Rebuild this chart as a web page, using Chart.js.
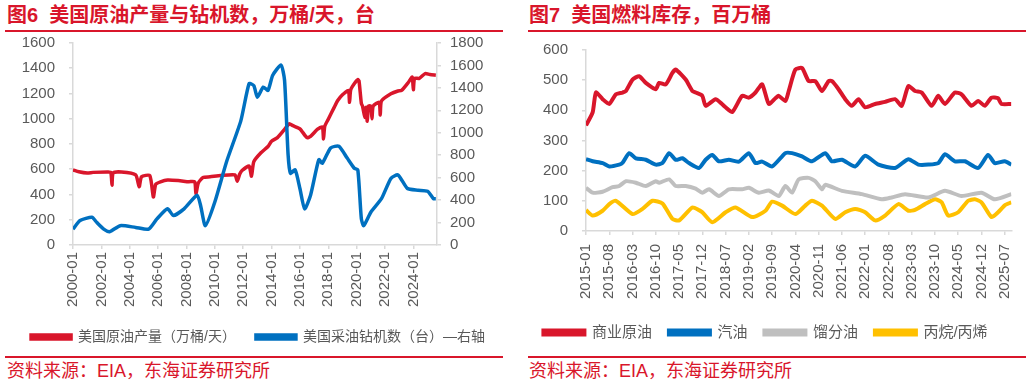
<!DOCTYPE html>
<html><head><meta charset="utf-8">
<script src="https://cdn.jsdelivr.net/npm/chart.js@4.4.1/dist/chart.umd.min.js"></script>
<style>
body{margin:0;background:#fff;width:1032px;height:387px;position:relative;overflow:hidden;font-family:"Liberation Sans",Arial,"Noto Sans CJK SC",sans-serif;}
.title{position:absolute;top:3px;font-size:20px;font-weight:bold;color:#D9162B;white-space:nowrap;line-height:25px;}
.rule{position:absolute;height:2px;background:#D9162B;}
.src{position:absolute;top:361px;font-size:18px;color:#D9162B;line-height:21px;white-space:nowrap;}
canvas{position:absolute;}
</style></head>
<body>
<div class="title" style="left:7px">图6&nbsp;&nbsp;美国原油产量与钻机数，万桶/天，台</div>
<div class="rule" style="left:5px;width:498px;top:30px"></div>
<div class="title" style="left:529px">图7&nbsp;&nbsp;美国燃料库存，百万桶</div>
<div class="rule" style="left:528px;width:498px;top:30px"></div>
<div class="rule" style="left:5px;width:498px;top:356px"></div>
<div class="rule" style="left:528px;width:498px;top:356px"></div>
<div class="src" style="left:7px">资料来源：EIA，东海证券研究所</div>
<div class="src" style="left:529px">资料来源：EIA，东海证券研究所</div>
<canvas id="c1" width="516" height="334" style="left:0;top:20px;width:516px;height:334px"></canvas>
<canvas id="c2" width="516" height="323" style="left:516px;top:27px;width:516px;height:323px"></canvas>
<script>
// ---------- Chart 1 data ----------
const xTicks1 = ['2000-01','2002-01','2004-01','2006-01','2008-01','2010-01','2012-01','2014-01','2016-01','2018-01','2020-01','2022-01','2024-01'];
const prodDates = ['2000-01','2000-06','2001-01','2001-06','2002-06','2002-09','2002-10','2002-11','2003-06','2004-06','2004-09','2004-11','2005-06','2005-09','2005-11','2006-03','2006-09','2007-06','2008-03','2008-08','2008-09','2008-11','2009-03','2009-09','2010-06','2011-06','2011-08','2011-10','2011-12','2012-06','2012-08','2012-10','2013-04','2013-10','2014-01','2014-06','2014-12','2015-04','2015-07','2016-01','2016-07','2016-10','2017-04','2017-08','2017-09','2017-10','2018-01','2018-06','2018-09','2019-01','2019-06','2019-07','2019-08','2019-12','2020-02','2020-03','2020-05','2020-06','2020-08','2020-09','2020-10','2020-11','2021-01','2021-02','2021-03','2021-08','2021-09','2021-10','2022-06','2022-12','2023-03','2023-09','2023-12','2024-01','2024-02','2024-06','2024-11','2025-03','2025-08'];
const prodValues = [595,580,570,575,578,575,474,570,578,555,461,540,550,380,480,500,514,510,501,500,405,490,535,540,550,555,505,560,590,625,545,660,730,780,822,850,916,960,945,920,850,860,917,935,840,940,996,1090,1144,1190,1224,1130,1230,1290,1310,1300,1120,1100,1010,1090,980,1100,1100,1000,1100,1130,1030,1140,1197,1220,1224,1291,1330,1230,1320,1320,1358,1350,1345];
const rigDates = ['2000-01','2000-07','2001-05','2001-09','2002-03','2002-08','2003-05','2004-06','2005-05','2005-12','2006-09','2007-02','2007-11','2008-10','2009-01','2009-05','2010-01','2010-11','2011-11','2012-06','2012-10','2013-01','2013-06','2013-10','2014-02','2014-09','2014-12','2015-03','2015-05','2015-09','2016-01','2016-05','2016-10','2017-05','2017-08','2018-03','2018-10','2019-05','2019-11','2020-02','2020-05','2020-07','2021-01','2021-10','2022-06','2022-12','2023-08','2024-05','2025-01','2025-06','2025-08'];
const rigValues = [141,217,247,202,141,118,172,156,141,232,322,262,322,443,350,172,383,744,1106,1438,1420,1317,1407,1377,1513,1604,1468,805,639,669,503,322,443,760,729,865,880,774,684,669,232,172,292,412,593,624,503,488,479,412,412];

// ---------- Chart 2 data ----------
const xTicks2 = ['2015-01','2015-08','2016-03','2016-10','2017-05','2017-12','2018-07','2019-02','2019-09','2020-04','2020-11','2021-06','2022-01','2022-08','2023-03','2023-10','2024-05','2024-12','2025-07'];
const crudeDates = ['2015-01','2015-03','2015-04','2015-06','2015-08','2015-10','2015-12','2016-01','2016-03','2016-05','2016-07','2016-10','2016-11','2017-01','2017-03','2017-04','2017-07','2017-09','2017-10','2017-12','2018-01','2018-04','2018-06','2018-07','2018-09','2018-12','2019-02','2019-04','2019-06','2019-08','2019-10','2019-11','2020-01','2020-02','2020-04','2020-06','2020-08','2020-10','2020-12','2021-02','2021-03','2021-05','2021-07','2021-09','2021-11','2022-01','2022-04','2022-07','2022-10','2022-12','2023-02','2023-04','2023-06','2023-09','2023-11','2024-01','2024-04','2024-06','2024-09','2024-11','2025-01','2025-03','2025-05','2025-06','2025-09'];
const crudeValues = [350,393,459,437,421,453,459,464,502,513,491,470,491,486,524,535,502,464,459,448,415,437,420,410,394,448,442,459,486,421,440,448,431,464,535,540,497,497,464,497,497,470,437,415,437,410,421,428,437,415,480,464,459,415,448,421,459,453,415,431,415,442,440,421,421];
const gasDates = ['2015-01','2015-03','2015-06','2015-08','2015-11','2015-12','2016-02','2016-04','2016-07','2016-10','2016-12','2017-02','2017-04','2017-06','2017-08','2017-11','2018-01','2018-03','2018-05','2018-08','2018-11','2019-02','2019-04','2019-06','2019-09','2020-01','2020-03','2020-06','2020-09','2021-01','2021-03','2021-06','2021-10','2022-01','2022-05','2022-10','2023-02','2023-05','2023-08','2023-11','2024-01','2024-04','2024-07','2024-11','2025-02','2025-04','2025-07','2025-09'];
const gasValues = [238,231,225,214,220,226,258,241,236,220,225,258,236,241,225,209,236,252,231,236,230,258,225,230,214,258,258,247,231,258,231,236,214,249,220,209,238,220,220,225,254,231,231,209,252,225,231,220];
const distDates = ['2015-01','2015-03','2015-06','2015-09','2015-11','2016-01','2016-04','2016-07','2016-10','2016-11','2017-02','2017-04','2017-07','2017-10','2017-12','2018-02','2018-05','2018-08','2018-12','2019-02','2019-05','2019-08','2019-11','2020-01','2020-03','2020-05','2020-08','2020-10','2020-12','2021-01','2021-06','2021-12','2022-06','2022-09','2023-01','2023-08','2024-01','2024-06','2024-12','2025-04','2025-09'];
const distValues = [143,127,130,145,149,165,160,149,165,160,171,149,149,140,127,138,116,138,138,143,127,134,116,149,127,171,176,165,138,153,133,122,105,111,122,111,133,116,127,105,122];
const propDates = ['2015-01','2015-03','2015-06','2015-08','2015-10','2016-03','2016-06','2016-09','2016-12','2017-03','2017-05','2017-09','2017-11','2017-12','2018-03','2018-07','2018-10','2019-03','2019-07','2019-09','2019-12','2020-04','2020-07','2020-09','2020-12','2021-04','2021-07','2021-10','2022-01','2022-04','2022-07','2022-11','2023-02','2023-04','2023-07','2023-10','2023-12','2024-02','2024-05','2024-08','2024-10','2024-12','2025-03','2025-05','2025-07','2025-09'];
const propValues = [69,51,67,89,100,56,73,100,91,40,35,78,69,62,29,62,78,46,67,97,84,56,84,100,84,40,62,73,62,35,51,89,67,70,89,105,95,51,62,100,105,95,46,62,85,95];

// ---------- helpers ----------
function mi(s, baseYear){ const p = s.split('-').map(Number); return (p[0]-baseYear)*12 + (p[1]-1); }
function pts(dates, vals, base){ return dates.map((d,i)=>({x: mi(d,base), y: vals[i]})); }
const FONT = '"Liberation Sans", Arial, "Noto Sans CJK SC", sans-serif';
Chart.defaults.font.family = FONT;
Chart.defaults.color = '#595959';
const RED='#D9162B', BLUE='#0070C0', GRAY='#BFBFBF', YELLOW='#FFC000', AX='#D9D9D9';

function lineDs(label, data, color, axis, order, w){
  return {label, data, borderColor: color, backgroundColor: color, borderWidth: w, pointRadius: 0, tension: 0.2, yAxisID: axis, order};
}
function xScale(ticksArr, base, max, pad){
  return {
    type:'linear', min:0, max:max,
    afterBuildTicks: s => { s.ticks = ticksArr.map(t => ({value: mi(t, base)})); },
    ticks:{autoSkip:false, minRotation:90, maxRotation:90, padding:pad, color:'#595959', font:{size:15},
      callback: v => { const f = ticksArr.find(t => mi(t, base) === v); return f || ''; }},
    grid:{display:true, drawOnChartArea:false, tickLength:4, color:AX, lineWidth:1.5},
    border:{display:true, color:AX, width:1.5}
  };
}
function yScale(pos, max, step, width, pad){
  return {
    position: pos, min:0, max:max,
    ticks:{stepSize:step, padding:pad, color:'#595959', font:{size:15}, callback: v => String(v)},
    grid:{display:true, drawOnChartArea:false, tickLength:4, color:AX, lineWidth:1.5},
    border:{display:true, color:AX, width:1.5},
    afterFit: s => { s.width = width; }
  };
}

new Chart(document.getElementById('c1'), {
  type:'line',
  data:{ datasets:[
    lineDs('美国原油产量（万桶/天）', pts(prodDates, prodValues, 2000), RED, 'y', 1, 3.5),
    lineDs('美国采油钻机数（台）—右轴', pts(rigDates, rigValues, 2000), BLUE, 'y1', 0, 3.5)
  ]},
  options:{
    responsive:false, animation:false, events:[],
    layout:{padding:{top:8, left:0, right:0, bottom:0}},
    scales:{
      x: xScale(xTicks1, 2000, 308, 3),
      y: yScale('left', 1600, 200, 73, 14),
      y1: yScale('right', 1800, 200, 79, 9)
    },
    plugins:{
      legend:{position:'bottom', labels:{boxWidth:40, boxHeight:4, padding:20, color:'#595959', font:{size:14},
        sort:(a,b)=>a.datasetIndex-b.datasetIndex}},
      tooltip:{enabled:false}
    }
  }
});

new Chart(document.getElementById('c2'), {
  type:'line',
  data:{ datasets:[
    lineDs('商业原油', pts(crudeDates, crudeValues, 2015), RED, 'y', 0, 4),
    lineDs('汽油', pts(gasDates, gasValues, 2015), BLUE, 'y', 1, 4),
    lineDs('馏分油', pts(distDates, distValues, 2015), GRAY, 'y', 2, 4),
    lineDs('丙烷/丙烯', pts(propDates, propValues, 2015), YELLOW, 'y', 3, 4)
  ]},
  options:{
    responsive:false, animation:false, events:[],
    layout:{padding:{top:8, left:0, right:17, bottom:0}},
    scales:{
      x: xScale(xTicks2, 2015, 128, 9),
      y: yScale('left', 600, 100, 70, 14)
    },
    plugins:{
      legend:{position:'bottom', labels:{boxWidth:41, boxHeight:4, padding:17, color:'#595959', font:{size:15},
        sort:(a,b)=>a.datasetIndex-b.datasetIndex}},
      tooltip:{enabled:false}
    }
  }
});
</script>
</body></html>
